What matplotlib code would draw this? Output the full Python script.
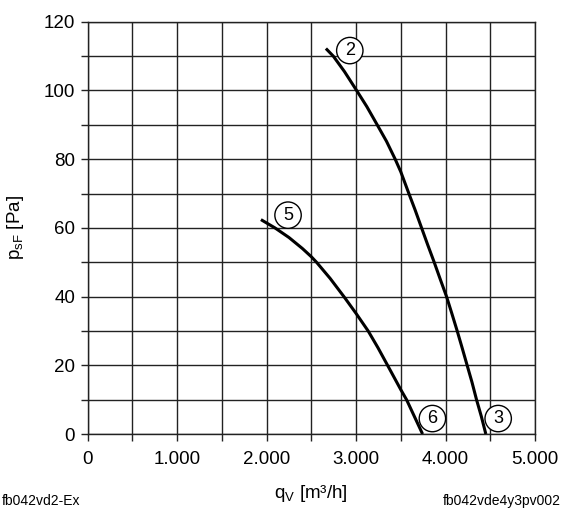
import matplotlib
matplotlib.use("Agg")
import matplotlib.pyplot as plt
from matplotlib.ticker import MultipleLocator, FuncFormatter

# fan curves
curve2_q = [2663, 2745, 2870, 3006, 3120, 3236, 3340, 3437, 3500, 3590, 3660, 3732,
            3800, 3873, 3940, 4011, 4070, 4130, 4185, 4241, 4295, 4346, 4400, 4450]
curve2_p = [112.2, 110, 105.5, 100, 95.3, 90, 85.2, 80, 76.3, 70, 65.2, 60,
            55.1, 50, 45.1, 40, 35.1, 30, 25.1, 20, 15.1, 10, 5.1, 0]

curve5_q = [1937, 2093, 2250, 2400, 2500, 2558, 2710, 2864, 3000, 3135, 3245, 3352,
            3500, 3564, 3650, 3743]
curve5_p = [62.4, 60, 57.2, 54, 51.6, 50, 45.3, 40, 35.1, 30, 25.1, 20,
            12.9, 10, 5.2, 0]

# circled curve numbers: (label, q, p)
markers = [("2", 2930, 111.6), ("5", 2240, 63.7), ("6", 3853, 4.5), ("3", 4588, 4.5)]

GRID = "#222222"

plt.rcParams["font.family"] = ["Liberation Sans", "DejaVu Sans"]

fig = plt.figure(figsize=(5.65, 5.17), dpi=100)
ax = fig.add_axes([0.155, 0.1605, 0.792, 0.7975])

ax.plot(curve2_q, curve2_p, color="black", lw=2.2, solid_capstyle="butt", zorder=3)
ax.plot(curve5_q, curve5_p, color="black", lw=2.2, solid_capstyle="butt", zorder=3)

for lab, q, p in markers:
    ax.text(q, p, lab, ha="center", va="center", fontsize=13, zorder=4,
            bbox=dict(boxstyle="circle,pad=0.26", fc="white", ec="black", lw=1.0))

ax.set_xlim(0, 5000)
ax.set_ylim(0, 120)
ax.xaxis.set_major_locator(MultipleLocator(1000))
ax.xaxis.set_minor_locator(MultipleLocator(500))
ax.yaxis.set_major_locator(MultipleLocator(20))
ax.yaxis.set_minor_locator(MultipleLocator(10))
ax.xaxis.set_major_formatter(FuncFormatter(lambda v, _: "0" if v == 0 else f"{int(v):,}".replace(",", ".")))

ax.grid(True, which="both", color=GRID, lw=1.0)
ax.set_axisbelow(True)
for s in ax.spines.values():
    s.set_color(GRID)
    s.set_linewidth(1.0)

ax.tick_params(which="both", direction="out", length=5, width=1.0, color=GRID,
               labelsize=13.5)
ax.tick_params(axis="x", pad=7)
ax.tick_params(axis="y", pad=4)

ax.set_xlabel("q$_\\mathregular{V}$ [m³/h]", fontsize=13.5, labelpad=11)
ax.set_ylabel("p$_\\mathregular{sF}$ [Pa]", fontsize=13.5, labelpad=13)

fig.text(0.004, 0.018, "fb042vd2-Ex", fontsize=10, ha="left", va="bottom")
fig.text(0.992, 0.018, "fb042vde4y3pv002", fontsize=10, ha="right", va="bottom")

fig.savefig("out.png", dpi=100)
